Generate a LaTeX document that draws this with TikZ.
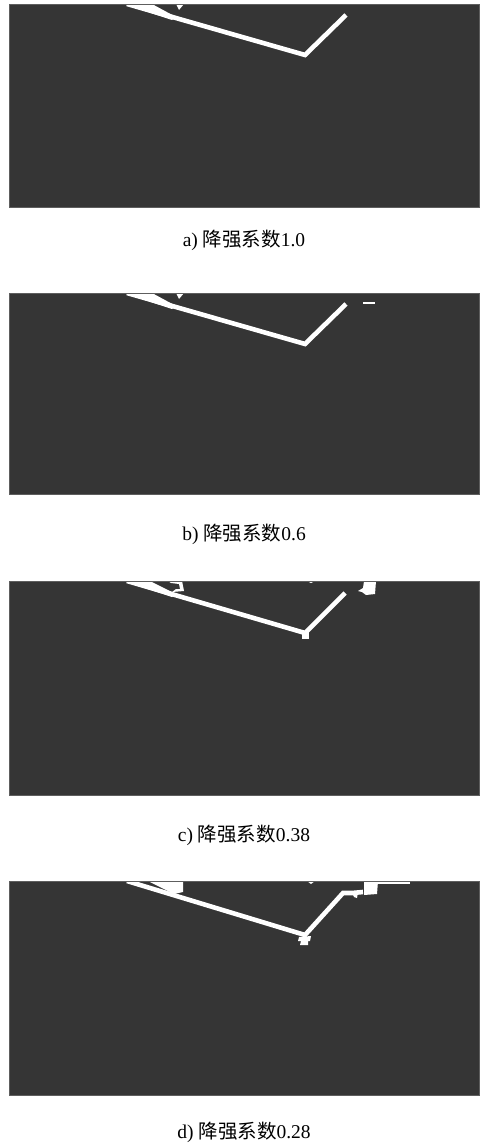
\documentclass[tikz,border=0pt]{standalone}
\usepackage{fontspec}
\setmainfont{Liberation Serif}
\newfontfamily\cjk{Noto Sans CJK SC}
\definecolor{fieldgray}{HTML}{353535}
\definecolor{framegray}{HTML}{5E5E5E}
\tikzset{
  field/.style={fill=fieldgray},
  frame/.style={draw=framegray, line width=0.8pt},
  band/.style={white, line width=4.6pt, line join=miter},
  caption/.style={font=\fontsize{19.5}{23}\selectfont}
}
\begin{document}
\begin{tikzpicture}[x=1pt, y=-1pt]
\useasboundingbox [fill=white] (0,0) rectangle (487,1147);

% a) 1.0
\begin{scope}[shift={(0,4)}]
\fill [field] (9,0) rectangle (479,203);
\begin{scope}
\clip (9,0) rectangle (479,203);
\fill [white] (123,0) -- (152,0) -- (176,13) -- (172,16) -- cycle;
\draw [band] (127,0) -- (305,51) -- (346,11);
\fill [white] (176,0) -- (184,0) -- (179,6) -- cycle;
\end{scope}
\draw [frame] (9,0) rectangle (479,203);
\end{scope}
\node [caption] (capA) at (244,240) {a) {\cjk 降强系数}1.0};

% b) 0.6
\begin{scope}[shift={(0,293)}]
\fill [field] (9,0) rectangle (479,201);
\begin{scope}
\clip (9,0) rectangle (479,201);
\fill [white] (123,0) -- (152,0) -- (176,13) -- (172,16) -- cycle;
\draw [band] (127,0) -- (305,51) -- (346,11);
\fill [white] (176,0) -- (184,0) -- (179,6) -- cycle;
\draw [white, line width=1.6pt] (363,10) -- (375,10);
\end{scope}
\draw [frame] (9,0) rectangle (479,201);
\end{scope}
\node [caption] (capB) at (244,534) {b) {\cjk 降强系数}0.6};

% c) 0.38
\begin{scope}[shift={(0,581)}]
\fill [field] (9,0) rectangle (479,214);
\begin{scope}
\clip (9,0) rectangle (479,214);
\fill [white] (123,0) -- (150,0) -- (176,13) -- (172,16) -- cycle;
\draw [band] (127,0) -- (305,52) -- (345,12);
\fill [white] (168,0) -- (182,0) -- (184,10) -- (172,11) -- (176,8) -- (180,8) -- (179,3) -- (171,2) -- cycle;
\fill [white] (307,0) -- (315,0) -- (311,2) -- cycle;
\fill [white] (364,0) -- (376,0) -- (375,13) -- (366,14) -- (362,11) -- (358,10) -- (363,7) -- cycle;
\fill [white] (302,51) rectangle (309,58);
\end{scope}
\draw [frame] (9,0) rectangle (479,214);
\end{scope}
\node [caption] (capC) at (244,835) {c) {\cjk 降强系数}0.38};

% d) 0.28
\begin{scope}[shift={(0,881)}]
\fill [field] (9,0) rectangle (479,214);
\begin{scope}
\clip (9,0) rectangle (479,214);
\draw [band] (127,0) -- (305,54) -- (343,12) -- (352,12) -- (363,11);
\fill [white] (148,0) -- (183,0) -- (183,11) -- (174,13) -- cycle;
\fill [white] (307,0) -- (315,0) -- (311,3) -- cycle;
\fill [white] (364,0) -- (378,0) -- (377,13) -- (364,14) -- cycle;
\fill [white] (377,0) rectangle (410,3);
\fill [white] (352,12) -- (358,11) -- (357,17) -- (354,16) -- cycle;
\fill [white] (299,56) -- (311,55) -- (310,60) -- (308,60) -- (308,64) -- (300,64) -- (301,60) -- (298,60) -- cycle;
\end{scope}
\draw [frame] (9,0) rectangle (479,214);
\end{scope}
\node [caption] (capD) at (244,1132) {d) {\cjk 降强系数}0.28};
\end{tikzpicture}
\end{document}
